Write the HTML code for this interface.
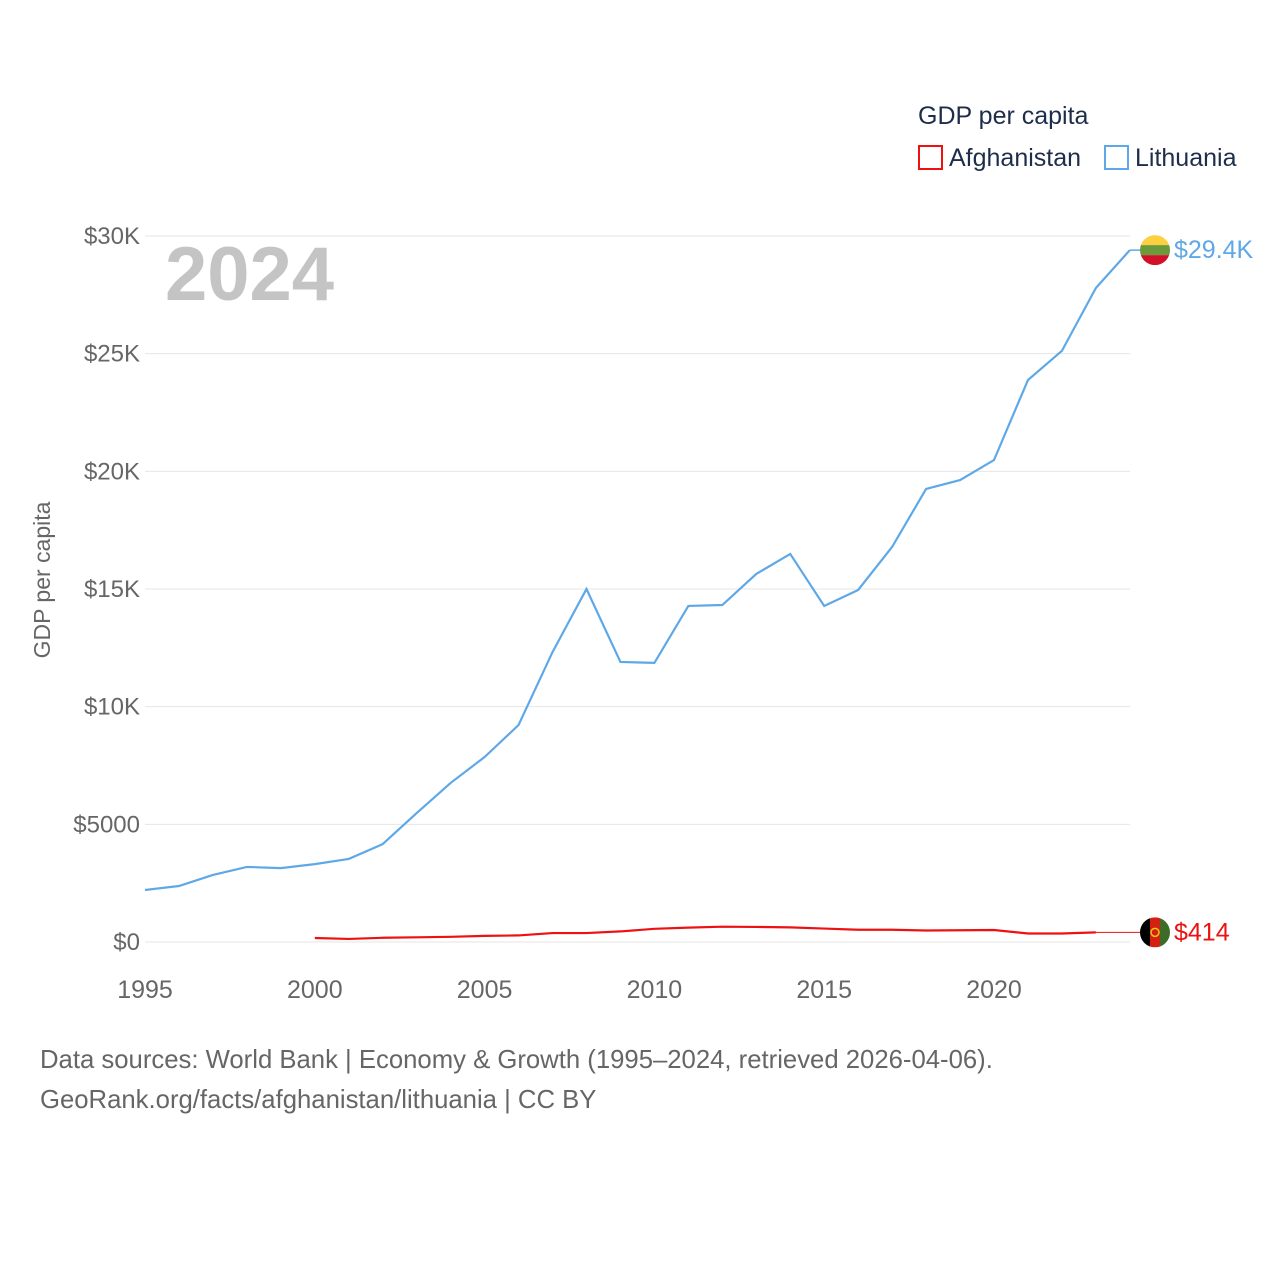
<!DOCTYPE html>
<html><head><meta charset="utf-8"><style>
body{margin:0;background:#fff;font-family:"Liberation Sans",sans-serif}
svg text{font-family:"Liberation Sans",sans-serif}
</style></head><body>
<svg id="c" width="1280" height="1280" viewBox="0 0 1280 1280">
<text x="918" y="124" font-size="25" fill="#1e2d4a">GDP per capita</text>
<g><rect x="919" y="146" width="23" height="23" fill="none" stroke="#ee1111" stroke-width="2"/><text x="949" y="166" font-size="25" fill="#1e2d4a">Afghanistan</text></g>
<g><rect x="1105" y="146" width="23" height="23" fill="none" stroke="#5fa8e8" stroke-width="2"/><text x="1135" y="166" font-size="25" fill="#1e2d4a">Lithuania</text></g>
<text x="165" y="300" font-size="76" font-weight="bold" fill="#c4c4c4">2024</text>
<text transform="translate(50,580) rotate(-90)" text-anchor="middle" font-size="23" fill="#666">GDP per capita</text>
<g id="grid"></g><g id="series"></g>
<text x="40" y="1068" font-size="25.7" fill="#666">Data sources: World Bank | Economy &amp; Growth (1995–2024, retrieved 2026-04-06).</text>
<text x="40" y="1108" font-size="25.7" fill="#666">GeoRank.org/facts/afghanistan/lithuania | CC BY</text>
</svg>
<script>
const years=[1995,1996,1997,1998,1999,2000,2001,2002,2003,2004,2005,2006,2007,2008,2009,2010,2011,2012,2013,2014,2015,2016,2017,2018,2019,2020,2021,2022,2023,2024];
const lithuania=[2.21,2.38,2.85,3.19,3.14,3.31,3.53,4.16,5.48,6.76,7.86,9.22,12.32,15.0,11.9,11.86,14.28,14.32,15.64,16.49,14.28,14.96,16.79,19.25,19.63,20.48,23.88,25.12,27.79,29.4];
const afgYears=[2000,2001,2002,2003,2004,2005,2006,2007,2008,2009,2010,2011,2012,2013,2014,2015,2016,2017,2018,2019,2020,2021,2022,2023];
const afghanistan=[0.17,0.13,0.18,0.2,0.22,0.26,0.28,0.38,0.38,0.45,0.56,0.61,0.65,0.64,0.62,0.57,0.52,0.52,0.49,0.5,0.51,0.36,0.36,0.41];
const yTicks=[0,5,10,15,20,25,30];
const yTickLabels=["$0","$5000","$10K","$15K","$20K","$25K","$30K"];
const xTicks=[1995,2000,2005,2010,2015,2020];
const lastLabels=["$29.4K","$414"];
const lastVals=[29.4,0.414];
const X=y=>145+(y-1995)*(994-145)/25;
const Y=v=>942-v*(942-236)/30;
const NS="http://www.w3.org/2000/svg";
const grid=document.getElementById('grid'),ser=document.getElementById('series');
function mk(p,t,a){const e=document.createElementNS(NS,t);for(const k in a)e.setAttribute(k,a[k]);p.appendChild(e);return e;}
yTicks.forEach((v,i)=>{
 const l=mk(grid,'line',{x1:145,x2:1130,y1:Y(v),y2:Y(v),stroke:'#e6e6e6','stroke-width':1});
 
 
 const t=mk(grid,'text',{x:140,y:Y(v)+8,'text-anchor':'end','font-size':24,fill:'#666'});t.textContent=yTickLabels[i];
 
 
});
xTicks.forEach(v=>{
 const t=mk(grid,'text',{x:X(v),y:998,'text-anchor':'middle','font-size':25,fill:'#666'});t.textContent=v;
 
 
});
const pl=mk(ser,'polyline',{points:years.map((y,i)=>X(y)+','+Y(lithuania[i])).join(' '),fill:'none',stroke:'#5fa8e8','stroke-width':2.2});


const pa=mk(ser,'polyline',{points:afgYears.map((y,i)=>X(y)+','+Y(afghanistan[i])).join(' '),fill:'none',stroke:'#ee1111','stroke-width':2.2});


const la=afgYears.length-1;
const c1=mk(ser,'line',{x1:X(2024),x2:1140,y1:Y(lastVals[0]),y2:Y(lastVals[0]),stroke:'#5fa8e8','stroke-width':1.5});


const c2=mk(ser,'line',{x1:X(afgYears[la]),x2:1140,y1:Y(afghanistan[la]),y2:Y(afghanistan[la]),stroke:'#ee1111','stroke-width':1});


const defs=mk(ser,'defs',{});
const cp1=mk(defs,'clipPath',{id:'f1'});mk(cp1,'circle',{cx:1155,cy:Y(lastVals[0]),r:15});
const cp2=mk(defs,'clipPath',{id:'f2'});mk(cp2,'circle',{cx:1155,cy:Y(afghanistan[la]),r:15});
const g1=mk(ser,'g',{'clip-path':'url(#f1)'});


const fy=Y(lastVals[0]);
mk(g1,'rect',{x:1140,y:fy-15,width:30,height:10,fill:'#fdd040'});
mk(g1,'rect',{x:1140,y:fy-5,width:30,height:10,fill:'#6a9a3a'});
mk(g1,'rect',{x:1140,y:fy+5,width:30,height:10,fill:'#d2102a'});
const g2=mk(ser,'g',{'clip-path':'url(#f2)'});


const ay=Y(afghanistan[la]);
mk(g2,'rect',{x:1140,y:ay-15,width:10,height:30,fill:'#000'});
mk(g2,'rect',{x:1150,y:ay-15,width:10,height:30,fill:'#d32011'});
mk(g2,'rect',{x:1160,y:ay-15,width:10,height:30,fill:'#3d6b28'});
mk(g2,'circle',{cx:1155,cy:ay,r:4,fill:'none',stroke:'#f2c811','stroke-width':1.5});
const t1=mk(ser,'text',{x:1174,y:fy+8,'font-size':25,fill:'#5fa8e8'});t1.textContent=lastLabels[0];


const t2=mk(ser,'text',{x:1174,y:ay+8,'font-size':25,fill:'#ee1111'});t2.textContent=lastLabels[1];


</script>
</body></html>
